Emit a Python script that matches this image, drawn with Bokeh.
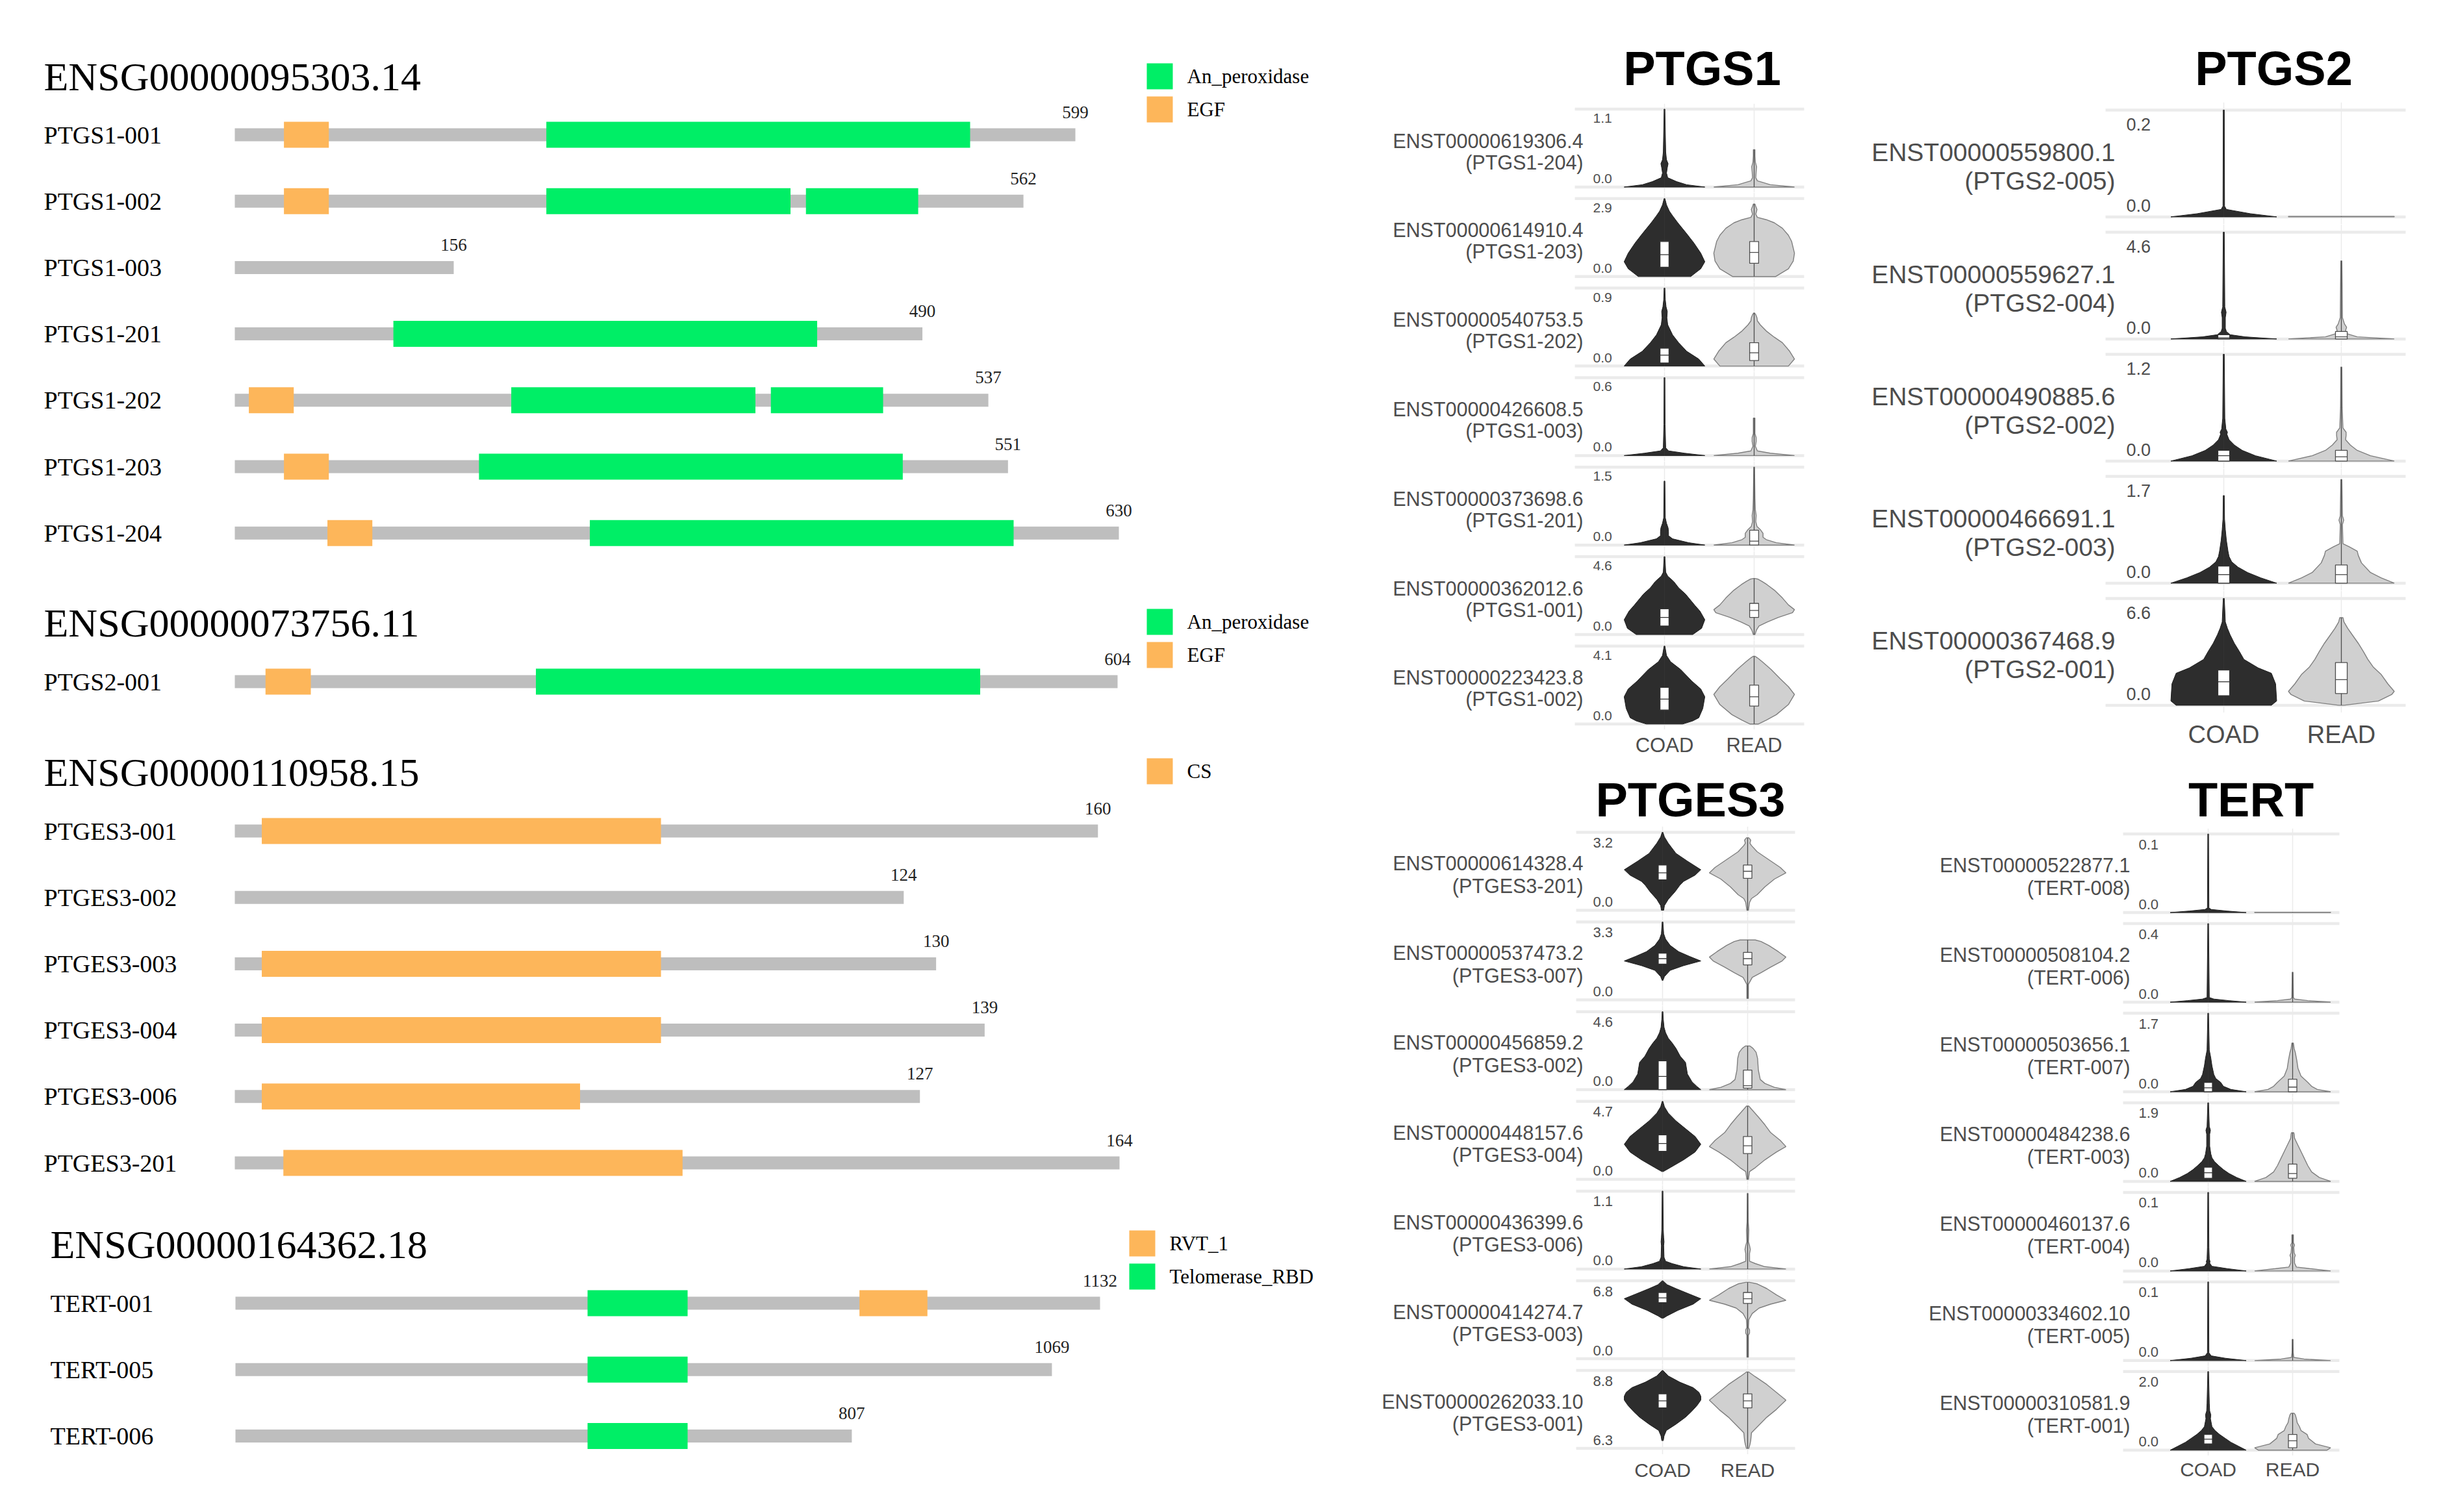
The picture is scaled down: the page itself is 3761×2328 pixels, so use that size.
from bokeh.plotting import figure
from bokeh.layouts import row, column
from bokeh.models import Range1d
from bokeh.embed import file_html
from bokeh.resources import INLINE
from bokeh.core.properties import value

# ====================== DATA: protein domain structures ======================
G1_ID = "ENSG00000095303.14"
G1_TX = ["PTGS1-001", "PTGS1-002", "PTGS1-003", "PTGS1-201", "PTGS1-202", "PTGS1-203", "PTGS1-204"]
G1_LEN = [599, 562, 156, 490, 537, 551, 630]
G1_DOM = [
    [("EGF", 35, 67), ("An_peroxidase", 222, 524)],
    [("EGF", 35, 67), ("An_peroxidase", 222, 396), ("An_peroxidase", 407, 487)],
    [],
    [("An_peroxidase", 113, 415)],
    [("EGF", 10, 42), ("An_peroxidase", 197, 371), ("An_peroxidase", 382, 462)],
    [("EGF", 35, 67), ("An_peroxidase", 174, 476)],
    [("EGF", 66, 98), ("An_peroxidase", 253, 555)],
]
G1_LEGEND = ["An_peroxidase", "EGF"]

G2_ID = "ENSG00000073756.11"
G2_TX = ["PTGS2-001"]
G2_LEN = [604]
G2_DOM = [[("EGF", 21, 52), ("An_peroxidase", 206, 510)]]
G2_LEGEND = ["An_peroxidase", "EGF"]

G3_ID = "ENSG00000110958.15"
G3_TX = ["PTGES3-001", "PTGES3-002", "PTGES3-003", "PTGES3-004", "PTGES3-006", "PTGES3-201"]
G3_LEN = [160, 124, 130, 139, 127, 164]
G3_DOM = [
    [("CS", 5, 79)],
    [],
    [("CS", 5, 79)],
    [("CS", 5, 79)],
    [("CS", 5, 64)],
    [("CS", 9, 83)],
]
G3_LEGEND = ["CS"]

G4_ID = "ENSG00000164362.18"
G4_TX = ["TERT-001", "TERT-005", "TERT-006"]
G4_LEN = [1132, 1069, 807]
G4_DOM = [
    [("Telomerase_RBD", 461, 592), ("RVT_1", 817, 906)],
    [("Telomerase_RBD", 461, 592)],
    [("Telomerase_RBD", 461, 592)],
]
G4_LEGEND = ["RVT_1", "Telomerase_RBD"]

# ====================== DATA: violin panels ======================
CATEGORIES = ["COAD", "READ"]

PTGS1_IDS = ["ENST00000619306.4", "ENST00000614910.4", "ENST00000540753.5", "ENST00000426608.5",
             "ENST00000373698.6", "ENST00000362012.6", "ENST00000223423.8"]
PTGS1_TX = ["PTGS1-204", "PTGS1-203", "PTGS1-202", "PTGS1-003", "PTGS1-201", "PTGS1-001", "PTGS1-002"]
PTGS1_LO = [0.0, 0.0, 0.0, 0.0, 0.0, 0.0, 0.0]
PTGS1_HI = [1.1, 2.9, 0.9, 0.6, 1.5, 4.6, 4.1]
# violin outlines: (fraction of row value range, half-width as fraction of max)
PTGS1_COAD = [
    [(0, 1.0), (0.03, 0.55), (0.07, 0.3), (0.12, 0.08), (0.18, 0.05), (0.25, 0.07), (0.3, 0.09), (0.35, 0.05), (0.45, 0.03), (0.7, 0.02), (1.0, 0.01)],
    [(0, 0.65), (0.1, 0.9), (0.19, 1.0), (0.3, 0.9), (0.43, 0.73), (0.55, 0.55), (0.69, 0.33), (0.78, 0.2), (0.84, 0.12), (0.92, 0.05), (1.0, 0.01)],
    [(0, 1.0), (0.09, 0.85), (0.19, 0.55), (0.3, 0.35), (0.4, 0.2), (0.53, 0.08), (0.62, 0.06), (0.7, 0.07), (0.76, 0.04), (0.85, 0.02), (1.0, 0.01)],
    [(0, 1.0), (0.03, 0.5), (0.06, 0.1), (0.1, 0.03), (0.4, 0.015), (1.0, 0.01)],
    [(0, 1.0), (0.03, 0.6), (0.08, 0.2), (0.12, 0.1), (0.17, 0.1), (0.22, 0.09), (0.28, 0.05), (0.35, 0.02), (0.82, 0.01)],
    [(0, 0.7), (0.08, 0.92), (0.19, 1.0), (0.3, 0.88), (0.37, 0.76), (0.52, 0.52), (0.6, 0.35), (0.68, 0.23), (0.75, 0.08), (0.8, 0.03), (1.0, 0.01)],
    [(0, 0.45), (0.04, 0.7), (0.08, 0.85), (0.2, 0.95), (0.35, 1.0), (0.45, 0.9), (0.55, 0.68), (0.7, 0.4), (0.8, 0.15), (0.88, 0.05), (1.0, 0.01)],
]
PTGS1_READ = [
    [(0, 1.0), (0.03, 0.4), (0.08, 0.08), (0.12, 0.04), (0.2, 0.05), (0.26, 0.06), (0.32, 0.03), (0.4, 0.02), (0.48, 0.02)],
    [(0, 0.53), (0.1, 0.85), (0.2, 0.97), (0.3, 1.0), (0.45, 0.93), (0.53, 0.85), (0.62, 0.7), (0.69, 0.5), (0.73, 0.3), (0.76, 0.08), (0.8, 0.04), (0.86, 0.07), (0.9, 0.04), (0.93, 0.02)],
    [(0, 0.85), (0.09, 1.0), (0.19, 0.88), (0.3, 0.7), (0.37, 0.5), (0.45, 0.3), (0.53, 0.15), (0.58, 0.08), (0.62, 0.07), (0.66, 0.04), (0.68, 0.01)],
    [(0, 1.0), (0.03, 0.4), (0.06, 0.08), (0.12, 0.03), (0.18, 0.05), (0.23, 0.05), (0.28, 0.02), (0.4, 0.02), (0.48, 0.02)],
    [(0, 1.0), (0.03, 0.55), (0.07, 0.3), (0.1, 0.22), (0.15, 0.22), (0.2, 0.15), (0.24, 0.07), (0.3, 0.04), (0.38, 0.05), (0.45, 0.03), (0.6, 0.02), (1.0, 0.01)],
    [(0, 0.02), (0.06, 0.06), (0.11, 0.12), (0.16, 0.32), (0.22, 0.6), (0.28, 0.95), (0.32, 1.0), (0.38, 0.85), (0.47, 0.7), (0.57, 0.5), (0.64, 0.32), (0.68, 0.2), (0.71, 0.1), (0.72, 0.02)],
    [(0, 0.1), (0.05, 0.3), (0.12, 0.55), (0.25, 0.85), (0.38, 1.0), (0.48, 0.85), (0.58, 0.65), (0.7, 0.42), (0.8, 0.2), (0.85, 0.08), (0.87, 0.02)],
]
# box stats (q1, median, q3) as fraction of row value range
PTGS1_BOX_COAD = [None, (0.12, 0.28, 0.45), (0.04, 0.14, 0.23), None, None, (0.11, 0.22, 0.33), (0.18, 0.32, 0.47)]
PTGS1_BOX_READ = [None, (0.17, 0.31, 0.45), (0.07, 0.17, 0.3), None, (0.0, 0.05, 0.19), (0.22, 0.31, 0.4), (0.23, 0.35, 0.5)]

PTGS2_IDS = ["ENST00000559800.1", "ENST00000559627.1", "ENST00000490885.6", "ENST00000466691.1", "ENST00000367468.9"]
PTGS2_TX = ["PTGS2-005", "PTGS2-004", "PTGS2-002", "PTGS2-003", "PTGS2-001"]
PTGS2_LO = [0.0, 0.0, 0.0, 0.0, 0.0]
PTGS2_HI = [0.2, 4.6, 1.2, 1.7, 6.6]
PTGS2_COAD = [
    [(0, 1.0), (0.03, 0.5), (0.07, 0.05), (0.1, 0.015), (1.0, 0.01)],
    [(0, 1.0), (0.02, 0.4), (0.04, 0.12), (0.07, 0.05), (0.1, 0.03), (0.2, 0.03), (0.25, 0.045), (0.3, 0.02), (1.0, 0.01)],
    [(0, 1.0), (0.05, 0.6), (0.1, 0.35), (0.15, 0.2), (0.2, 0.1), (0.25, 0.06), (0.27, 0.07), (0.3, 0.04), (0.4, 0.02), (1.0, 0.01)],
    [(0, 1.0), (0.05, 0.7), (0.1, 0.45), (0.15, 0.27), (0.2, 0.15), (0.25, 0.1), (0.3, 0.08), (0.4, 0.05), (0.5, 0.03), (0.6, 0.015), (0.82, 0.01)],
    [(0, 0.9), (0.04, 1.0), (0.2, 0.98), (0.3, 0.9), (0.35, 0.65), (0.43, 0.38), (0.5, 0.3), (0.58, 0.2), (0.66, 0.12), (0.72, 0.07), (0.78, 0.03), (1.0, 0.01)],
]
PTGS2_READ = [
    [(0, 1.0), (0.004, 1.0)],
    [(0, 1.0), (0.02, 0.3), (0.05, 0.1), (0.08, 0.08), (0.11, 0.1), (0.14, 0.06), (0.2, 0.02), (0.5, 0.015), (0.73, 0.01)],
    [(0, 1.0), (0.05, 0.55), (0.1, 0.3), (0.15, 0.17), (0.2, 0.08), (0.24, 0.09), (0.27, 0.09), (0.31, 0.03), (0.5, 0.015), (0.88, 0.01)],
    [(0, 1.0), (0.05, 0.75), (0.1, 0.55), (0.19, 0.38), (0.26, 0.32), (0.3, 0.3), (0.34, 0.15), (0.37, 0.03), (0.55, 0.02), (0.59, 0.045), (0.63, 0.02), (0.97, 0.01)],
    [(0, 0.05), (0.04, 0.7), (0.1, 0.95), (0.13, 1.0), (0.2, 0.88), (0.29, 0.75), (0.36, 0.6), (0.43, 0.5), (0.5, 0.42), (0.58, 0.32), (0.65, 0.22), (0.72, 0.12), (0.78, 0.05), (0.82, 0.03)],
]
PTGS2_BOX_COAD = [None, (0.0, 0.01, 0.04), (0.0, 0.05, 0.1), (0.0, 0.08, 0.16), (0.09, 0.22, 0.33)]
PTGS2_BOX_READ = [None, (0.0, 0.02, 0.07), (0.0, 0.04, 0.1), (0.0, 0.08, 0.17), (0.11, 0.24, 0.4)]

PTGES3_IDS = ["ENST00000614328.4", "ENST00000537473.2", "ENST00000456859.2", "ENST00000448157.6",
              "ENST00000436399.6", "ENST00000414274.7", "ENST00000262033.10"]
PTGES3_TX = ["PTGES3-201", "PTGES3-007", "PTGES3-002", "PTGES3-004", "PTGES3-006", "PTGES3-003", "PTGES3-001"]
PTGES3_LO = [0.0, 0.0, 0.0, 0.0, 0.0, 0.0, 6.3]
PTGES3_HI = [3.2, 3.3, 4.6, 4.7, 1.1, 6.8, 8.8]
PTGES3_COAD = [
    [(0, 0.03), (0.06, 0.05), (0.14, 0.15), (0.24, 0.33), (0.32, 0.45), (0.37, 0.55), (0.45, 0.85), (0.52, 1.0), (0.63, 0.65), (0.73, 0.35), (0.86, 0.15), (0.94, 0.05), (1.0, 0.01)],
    [(0.25, 0.01), (0.3, 0.05), (0.38, 0.2), (0.44, 0.55), (0.5, 1.0), (0.56, 0.7), (0.62, 0.42), (0.7, 0.2), (0.78, 0.08), (0.85, 0.03), (1.0, 0.01)],
    [(0, 1.0), (0.04, 0.9), (0.1, 0.77), (0.2, 0.65), (0.35, 0.6), (0.43, 0.46), (0.53, 0.35), (0.6, 0.25), (0.66, 0.15), (0.73, 0.08), (0.8, 0.04), (0.9, 0.02), (1.0, 0.01)],
    [(0.1, 0.02), (0.15, 0.2), (0.25, 0.55), (0.35, 0.85), (0.45, 1.0), (0.55, 0.85), (0.65, 0.6), (0.75, 0.35), (0.85, 0.15), (0.93, 0.05), (1.0, 0.01)],
    [(0, 1.0), (0.03, 0.55), (0.07, 0.25), (0.1, 0.08), (0.15, 0.04), (0.3, 0.03), (0.35, 0.04), (0.4, 0.03), (0.5, 0.02), (1.0, 0.01)],
    [(0.52, 0.02), (0.55, 0.12), (0.62, 0.4), (0.7, 0.8), (0.77, 1.0), (0.83, 0.7), (0.9, 0.35), (0.95, 0.12), (1.0, 0.01)],
    [(0.1, 0.02), (0.16, 0.04), (0.23, 0.1), (0.31, 0.35), (0.4, 0.6), (0.47, 0.75), (0.55, 0.9), (0.62, 1.0), (0.67, 1.0), (0.72, 0.95), (0.78, 0.8), (0.85, 0.45), (0.93, 0.15), (1.0, 0.01)],
]
PTGES3_READ = [
    [(0, 0.02), (0.1, 0.05), (0.15, 0.1), (0.2, 0.25), (0.3, 0.45), (0.4, 0.7), (0.48, 1.0), (0.55, 0.85), (0.65, 0.55), (0.75, 0.25), (0.83, 0.1), (0.86, 0.06), (0.9, 0.08), (0.93, 0.03)],
    [(0.02, 0.02), (0.2, 0.02), (0.29, 0.12), (0.35, 0.35), (0.42, 0.6), (0.5, 0.9), (0.55, 1.0), (0.62, 0.8), (0.7, 0.55), (0.75, 0.35), (0.77, 0.2)],
    [(0, 1.0), (0.03, 0.7), (0.08, 0.45), (0.13, 0.33), (0.25, 0.28), (0.4, 0.26), (0.48, 0.22), (0.53, 0.14), (0.56, 0.06)],
    [(0, 0.02), (0.1, 0.05), (0.15, 0.2), (0.25, 0.45), (0.35, 0.75), (0.42, 1.0), (0.5, 0.85), (0.6, 0.6), (0.7, 0.45), (0.8, 0.28), (0.9, 0.1), (0.94, 0.03)],
    [(0, 1.0), (0.03, 0.45), (0.07, 0.2), (0.1, 0.05), (0.2, 0.05), (0.25, 0.07), (0.3, 0.05), (0.35, 0.02), (0.5, 0.03), (0.6, 0.015), (0.97, 0.01)],
    [(0.02, 0.02), (0.3, 0.02), (0.33, 0.05), (0.37, 0.05), (0.4, 0.02), (0.5, 0.03), (0.58, 0.12), (0.65, 0.3), (0.7, 0.6), (0.75, 1.0), (0.82, 0.75), (0.9, 0.5), (0.96, 0.25), (0.98, 0.05)],
    [(0, 0.03), (0.05, 0.06), (0.1, 0.08), (0.2, 0.1), (0.3, 0.3), (0.4, 0.5), (0.5, 0.75), (0.62, 1.0), (0.72, 0.75), (0.82, 0.5), (0.92, 0.2), (0.98, 0.03)],
]
PTGES3_BOX_COAD = [(0.39, 0.48, 0.58), (0.46, 0.53, 0.6), (0.0, 0.17, 0.37), (0.36, 0.46, 0.57), None, (0.72, 0.78, 0.85), (0.52, 0.61, 0.7)]
PTGES3_BOX_READ = [(0.41, 0.5, 0.58), (0.45, 0.53, 0.61), (0.02, 0.05, 0.25), (0.33, 0.43, 0.55), None, (0.71, 0.77, 0.85), (0.52, 0.61, 0.7)]

TERT_IDS = ["ENST00000522877.1", "ENST00000508104.2", "ENST00000503656.1", "ENST00000484238.6",
            "ENST00000460137.6", "ENST00000334602.10", "ENST00000310581.9"]
TERT_TX = ["TERT-008", "TERT-006", "TERT-007", "TERT-003", "TERT-004", "TERT-005", "TERT-001"]
TERT_LO = [0.0, 0.0, 0.0, 0.0, 0.0, 0.0, 0.0]
TERT_HI = [0.1, 0.4, 1.7, 1.9, 0.1, 0.1, 2.0]
TERT_COAD = [
    [(0, 1.0), (0.02, 0.5), (0.04, 0.08), (0.06, 0.02), (1.0, 0.01)],
    [(0, 1.0), (0.02, 0.55), (0.04, 0.15), (0.06, 0.03), (1.0, 0.01)],
    [(0, 1.0), (0.03, 0.6), (0.07, 0.4), (0.12, 0.33), (0.17, 0.2), (0.22, 0.15), (0.33, 0.1), (0.43, 0.07), (0.53, 0.03), (1.0, 0.01)],
    [(0, 1.0), (0.05, 0.75), (0.1, 0.55), (0.15, 0.4), (0.2, 0.28), (0.25, 0.17), (0.3, 0.1), (0.35, 0.07), (0.45, 0.04), (0.6, 0.04), (0.65, 0.06), (0.7, 0.03), (1.0, 0.01)],
    [(0, 1.0), (0.03, 0.5), (0.06, 0.1), (0.1, 0.04), (0.12, 0.05), (0.15, 0.03), (0.3, 0.02), (1.0, 0.01)],
    [(0, 1.0), (0.03, 0.45), (0.06, 0.08), (0.1, 0.02), (1.0, 0.01)],
    [(0, 1.0), (0.05, 0.8), (0.1, 0.6), (0.15, 0.45), (0.2, 0.3), (0.25, 0.18), (0.3, 0.1), (0.4, 0.06), (0.45, 0.07), (0.5, 0.04), (0.6, 0.03), (1.0, 0.01)],
]
TERT_READ = [
    [(0, 1.0), (0.004, 1.0)],
    [(0, 1.0), (0.02, 0.4), (0.04, 0.05), (0.06, 0.02), (0.38, 0.01)],
    [(0, 1.0), (0.03, 0.65), (0.07, 0.5), (0.12, 0.4), (0.2, 0.22), (0.3, 0.14), (0.4, 0.11), (0.5, 0.07), (0.55, 0.04), (0.62, 0.02)],
    [(0, 1.0), (0.05, 0.7), (0.12, 0.5), (0.2, 0.4), (0.3, 0.3), (0.4, 0.2), (0.5, 0.1), (0.55, 0.05), (0.6, 0.04), (0.62, 0.03)],
    [(0, 1.0), (0.03, 0.45), (0.05, 0.1), (0.1, 0.05), (0.17, 0.05), (0.2, 0.07), (0.23, 0.04), (0.3, 0.03), (0.33, 0.05), (0.36, 0.02), (0.46, 0.02)],
    [(0, 1.0), (0.02, 0.3), (0.04, 0.03), (0.1, 0.015), (0.27, 0.01)],
    [(0, 0.9), (0.03, 1.0), (0.08, 0.6), (0.15, 0.42), (0.2, 0.38), (0.25, 0.22), (0.3, 0.18), (0.35, 0.12), (0.4, 0.1), (0.45, 0.07), (0.47, 0.04)],
]
TERT_BOX_COAD = [None, None, (0.0, 0.05, 0.12), (0.04, 0.11, 0.18), None, None, (0.08, 0.14, 0.2)]
TERT_BOX_READ = [None, None, (0.0, 0.06, 0.16), (0.04, 0.1, 0.22), None, None, (0.03, 0.12, 0.2)]

# ====================== STYLE / LAYOUT ======================
GREEN = "#00EE66"
ORANGE = "#FDB65A"
BAR_GRAY = "#BEBEBE"
DOMAIN_COLORS = {"An_peroxidase": GREEN, "EGF": ORANGE, "CS": ORANGE, "RVT_1": ORANGE, "Telomerase_RBD": GREEN}
SERIF = "Liberation Serif"
SANS = "Liberation Sans"
TXT_GRAY = "#4D4D4D"
GRID = "#EBEBEB"
COAD_FILL, COAD_LINE = "#2D2D2D", "#1E1E1E"
READ_FILL, READ_LINE = "#D0D0D0", "#7F7F7F"
HALF_W = 0.45
BOX_HW = 0.05

PAGE_X0 = 0
LEFT_W = 2100
PITCH = 102.2
BOTTOM = 2318

LAY_G1 = dict(top=0, bottom=880, row0=207, title_c=117, tx=67, x0=361, xe=1722, leg_x=1765, leg_y=97)
LAY_G2 = dict(top=880, bottom=1120, row0=1049, title_c=958, tx=67, x0=361, xe=1720, leg_x=1765, leg_y=937)
LAY_G3 = dict(top=1120, bottom=1850, row0=1279, title_c=1188, tx=67, x0=361, xe=1723, leg_x=1765, leg_y=1167)
LAY_G4 = dict(top=1850, bottom=BOTTOM, row0=2006, title_c=1915, tx=77, x0=362, xe=1693, leg_x=1738, leg_y=1894)

LAY_PTGS1 = dict(xl=2100, xr=2800, top=0, bottom=1180, title_cx=2620, title_c=105, title_fs=74,
                 top0=167.5, pitch=137.8, span=120, line_l=2424, line_r=2777, pc=2562, pr=2700,
                 lab_r=2437, lab_fs=30.5, lab_gap=33, tick_x=2452, tick_fs=21, tick_dt=14, tick_db=13,
                 xl_dy=33, xl_fs=31)
LAY_PTGS2 = dict(xl=2800, xr=3761, top=0, bottom=1180, title_cx=3500, title_c=105, title_fs=74,
                 top0=168.9, pitch=188, span=164.5, line_l=3241, line_r=3703, pc=3423, pr=3604,
                 lab_r=3256, lab_fs=39, lab_gap=44, tick_x=3273, tick_fs=27, tick_dt=22, tick_db=17,
                 xl_dy=45, xl_fs=38)
LAY_PTGES3 = dict(xl=2100, xr=2800, top=1180, bottom=BOTTOM, title_cx=2602, title_c=1231, title_fs=74,
                  top0=1281, pitch=138.1, span=120, line_l=2426, line_r=2763, pc=2559, pr=2690,
                  lab_r=2437, lab_fs=30.5, lab_gap=34.5, tick_x=2452, tick_fs=22, tick_dt=16, tick_db=13,
                  xl_dy=33, xl_fs=30)
LAY_TERT = dict(xl=2800, xr=3761, top=1180, bottom=BOTTOM, title_cx=3465, title_c=1231, title_fs=74,
                top0=1283.6, pitch=137.95, span=121, line_l=3268, line_r=3601, pc=3399, pr=3529,
                lab_r=3279, lab_fs=30.5, lab_gap=34.5, tick_x=3292, tick_fs=22, tick_dt=16, tick_db=13,
                xl_dy=30, xl_fs=30)


def make_fig(w, h, xr, yr):
    p = figure(width=int(w), height=int(h), x_range=xr, y_range=yr, output_backend="svg",
               toolbar_location=None, min_border=0, x_axis_location=None, y_axis_location=None)
    p.grid.visible = False
    p.outline_line_color = None
    p.background_fill_color = "white"
    p.border_fill_color = "white"
    return p


def gene_fig(gid, tx, lens, doms, legend, lay):
    H = lay["bottom"] - lay["top"]
    s = (lay["xe"] - lay["x0"]) / max(lens)

    def xd(px):
        return (px - lay["x0"]) / s

    def yd(py):
        return (py - lay["row0"]) / PITCH

    p = make_fig(LEFT_W, H, Range1d(xd(PAGE_X0), xd(PAGE_X0 + LEFT_W)),
                 Range1d(yd(lay["bottom"]), yd(lay["top"])))
    rows = list(range(len(tx)))
    gh = 10 / PITCH
    dh = 20 / PITCH
    p.quad(left=[0] * len(rows), right=lens, bottom=[r + gh for r in rows], top=[r - gh for r in rows],
           fill_color=BAR_GRAY, line_color=None)
    dl, dr, db, dt, dc = [], [], [], [], []
    for r, ds in enumerate(doms):
        for name, a, b in ds:
            dl.append(a); dr.append(b); db.append(r + dh); dt.append(r - dh); dc.append(DOMAIN_COLORS[name])
    if dl:
        p.quad(left=dl, right=dr, bottom=db, top=dt, fill_color=dc, line_color=None)
    p.text(x=[xd(lay["tx"])], y=[yd(lay["title_c"])], text=[gid], text_font=value(SERIF),
           text_font_size="62px", text_align="left", text_baseline="middle", text_color="black")
    p.text(x=[xd(lay["tx"])] * len(rows), y=rows, text=tx, text_font=value(SERIF),
           text_font_size="38px", text_align="left", text_baseline="middle", text_color="black")
    p.text(x=lens, y=[r - 35 / PITCH for r in rows], text=[str(v) for v in lens], text_font=value(SERIF),
           text_font_size="27px", text_align="center", text_baseline="middle", text_color="#222222")
    for k, name in enumerate(legend):
        ytop = lay["leg_y"] + k * 51
        p.quad(left=[xd(lay["leg_x"])], right=[xd(lay["leg_x"] + 40)], top=[yd(ytop)], bottom=[yd(ytop + 40)],
               fill_color=DOMAIN_COLORS[name], line_color=None)
        p.text(x=[xd(lay["leg_x"] + 62)], y=[yd(ytop + 20)], text=[name], text_font=value(SERIF),
               text_font_size="31px", text_align="left", text_baseline="middle", text_color="black")
    return p


def violin_panel(title, ids, tx, lo, hi, coad, read, box_coad, box_read, lay):
    W = lay["xr"] - lay["xl"]
    n = len(ids)
    S = lay["span"]
    B = [round(lay["top0"] - (lay["pitch"] - S) / 2 + i * lay["pitch"]) for i in range(n + 1)]
    u = lay["pr"] - lay["pc"]
    cat_pos = [i + 1 for i in range(len(CATEGORIES))]

    def xv(px):
        return 1 + (px - lay["pc"]) / u

    children = []
    hdr = make_fig(W, B[0] - lay["top"], Range1d(xv(lay["xl"]), xv(lay["xr"])), Range1d(B[0], lay["top"]))
    hdr.text(x=[xv(lay["title_cx"])], y=[lay["title_c"]], text=[title], text_font=value(SANS),
             text_font_style="bold", text_font_size=f'{lay["title_fs"]}px', text_align="center",
             text_baseline="middle", text_color="black")
    children.append(hdr)

    groups = [(coad, box_coad, COAD_FILL, COAD_LINE, 1.0, "#333333"),
              (read, box_read, READ_FILL, READ_LINE, 1.4, "#4D4D4D")]
    for i in range(n):
        T = lay["top0"] + i * lay["pitch"]
        l, h = lo[i], hi[i]

        def yv(py, T=T, l=l, h=h):
            return l + (T + S - py) / S * (h - l)

        p = make_fig(W, B[i + 1] - B[i], Range1d(xv(lay["xl"]), xv(lay["xr"])), Range1d(yv(B[i + 1]), yv(B[i])))
        p.segment(x0=cat_pos, x1=cat_pos, y0=[yv(B[i + 1])] * 2, y1=[yv(B[i])] * 2, line_color=GRID, line_width=1.5)
        p.segment(x0=[xv(lay["line_l"])] * 2, x1=[xv(lay["line_r"])] * 2, y0=[l, h], y1=[l, h],
                  line_color=GRID, line_width=4.5)
        for (profs, boxes, fill, line, lw, boxline), c in zip(groups, cat_pos):
            prof = profs[i]
            ys = [l + f * (h - l) for f, w in prof]
            xs_l = [c - w * HALF_W for f, w in prof]
            xs_r = [c + w * HALF_W for f, w in prof]
            p.patch(xs_l + xs_r[::-1], ys + ys[::-1], fill_color=fill, line_color=line, line_width=lw)
            p.segment(x0=[c], x1=[c], y0=[ys[0]], y1=[ys[-1]], line_color=boxline, line_width=1.3)
            bx = boxes[i]
            if bx is not None:
                q1, md, q3 = [l + f * (h - l) for f in bx]
                p.quad(left=[c - BOX_HW], right=[c + BOX_HW], bottom=[q1], top=[q3],
                       fill_color="white", line_color=boxline, line_width=1.3)
                p.segment(x0=[c - BOX_HW], x1=[c + BOX_HW], y0=[md], y1=[md], line_color=boxline, line_width=1.3)
        mid = T + S / 2 + 5
        g = lay["lab_gap"] / 2
        p.text(x=[xv(lay["lab_r"])] * 2, y=[yv(mid - g), yv(mid + g)], text=[ids[i], f"({tx[i]})"],
               text_font=value(SANS), text_font_size=f'{lay["lab_fs"]}px', text_align="right",
               text_baseline="middle", text_color=TXT_GRAY)
        p.text(x=[xv(lay["tick_x"])] * 2, y=[yv(T + lay["tick_dt"]), yv(T + S - lay["tick_db"])],
               text=[f"{h:.1f}", f"{l:.1f}"], text_font=value(SANS), text_font_size=f'{lay["tick_fs"]}px',
               text_align="left", text_baseline="middle", text_color=TXT_GRAY)
        children.append(p)

    T_last = lay["top0"] + (n - 1) * lay["pitch"]
    ftr = make_fig(W, lay["bottom"] - B[n], Range1d(xv(lay["xl"]), xv(lay["xr"])), Range1d(lay["bottom"], B[n]))
    ftr.text(x=cat_pos, y=[T_last + S + lay["xl_dy"]] * len(cat_pos), text=CATEGORIES, text_font=value(SANS),
             text_font_size=f'{lay["xl_fs"]}px', text_align="center", text_baseline="middle", text_color=TXT_GRAY)
    children.append(ftr)
    return column(*children, spacing=0)


left = column(
    gene_fig(G1_ID, G1_TX, G1_LEN, G1_DOM, G1_LEGEND, LAY_G1),
    gene_fig(G2_ID, G2_TX, G2_LEN, G2_DOM, G2_LEGEND, LAY_G2),
    gene_fig(G3_ID, G3_TX, G3_LEN, G3_DOM, G3_LEGEND, LAY_G3),
    gene_fig(G4_ID, G4_TX, G4_LEN, G4_DOM, G4_LEGEND, LAY_G4),
    spacing=0,
)

p_ptgs1 = violin_panel("PTGS1", PTGS1_IDS, PTGS1_TX, PTGS1_LO, PTGS1_HI, PTGS1_COAD, PTGS1_READ,
                       PTGS1_BOX_COAD, PTGS1_BOX_READ, LAY_PTGS1)
p_ptgs2 = violin_panel("PTGS2", PTGS2_IDS, PTGS2_TX, PTGS2_LO, PTGS2_HI, PTGS2_COAD, PTGS2_READ,
                       PTGS2_BOX_COAD, PTGS2_BOX_READ, LAY_PTGS2)
p_ptges3 = violin_panel("PTGES3", PTGES3_IDS, PTGES3_TX, PTGES3_LO, PTGES3_HI, PTGES3_COAD, PTGES3_READ,
                        PTGES3_BOX_COAD, PTGES3_BOX_READ, LAY_PTGES3)
p_tert = violin_panel("TERT", TERT_IDS, TERT_TX, TERT_LO, TERT_HI, TERT_COAD, TERT_READ,
                      TERT_BOX_COAD, TERT_BOX_READ, LAY_TERT)

right = column(row(p_ptgs1, p_ptgs2, spacing=0), row(p_ptges3, p_tert, spacing=0), spacing=0)
layout = row(left, right, spacing=0)

open("out.html", "w").write(file_html(layout, INLINE, title="Transcript structures and expression"))
